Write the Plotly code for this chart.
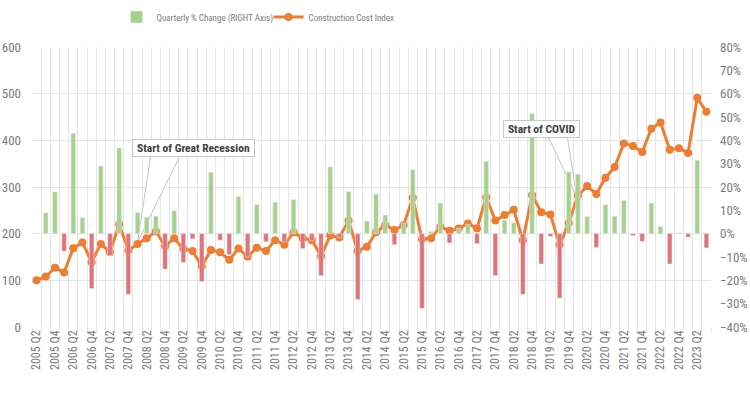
import plotly.graph_objects as go

# ---- data ----
quarters = []
for y in range(2005, 2024):
    for q in range(1, 5):
        if (y == 2005 and q < 2) or (y == 2023 and q > 3):
            continue
        quarters.append(f"{y} Q{q}")  # 2005 Q2 ... 2023 Q3 (74)

cost_index = [100, 108, 127, 117, 169, 181, 139, 178, 160, 220,
              164, 178, 190, 205, 173, 190, 167, 163, 130, 165,
              160, 144, 168, 151, 170, 163, 186, 176, 203, 190,
              186, 152, 196, 192, 228, 163, 172, 203, 218, 208,
              218, 277, 188, 190, 215, 206, 211, 222, 211, 278,
              228, 240, 251, 186, 283, 246, 241, 176, 223, 282,
              302, 285, 320, 343, 393, 388, 375, 425, 438, 380,
              383, 373, 491, 461]

pct_change = [None, 8.9, 17.9, -7.5, 43.0, 6.8, -23.5, 29.0, -9.4, 36.7,
              -26.0, 9.1, 7.0, 7.5, -15.2, 9.8, -12.3, -2.2, -20.5, 26.3,
              -2.8, -9.0, 16.0, -10.0, 12.5, -3.5, 13.5, -3.5, 14.6, -6.4,
              -3.0, -18.0, 28.6, -1.8, 18.0, -28.2, 5.4, 17.0, 8.0, -4.7,
              4.6, 27.4, -32.0, 1.0, 13.1, -4.0, 2.4, 4.0, -4.3, 31.0,
              -18.0, 5.8, 4.6, -26.0, 51.5, -13.0, -1.2, -27.6, 26.5, 25.5,
              7.4, -5.9, 12.4, 7.5, 14.3, -0.8, -3.3, 13.1, 3.0, -13.0,
              0.4, -1.5, 31.5, -6.1]

tick_labels = quarters[::2]

# ---- styling ----
FONT = "Roboto Condensed, Liberation Sans, Arial, sans-serif"
GREEN = "#a9d18e"
RED = "#e07479"
ORANGE = "#ed7d31"
GRID = "#e6e6e6"
TXT = "#7c7c7c"

idx = list(range(len(quarters)))
pos = [v if (v is not None and v >= 0) else None for v in pct_change]
neg = [v if (v is not None and v < 0) else None for v in pct_change]

fig = go.Figure()
fig.add_trace(go.Bar(x=idx, y=pos, yaxis="y2", marker_color=GREEN, width=0.5,
                     name="Quarterly % Change (RIGHT Axis)", hoverinfo="skip"))
fig.add_trace(go.Bar(x=idx, y=neg, yaxis="y2", marker_color=RED, width=0.5,
                     showlegend=False, hoverinfo="skip"))

# callout wedges (white fill, thin gray outline) - drawn above bars, below line
callouts = [
    dict(text="Start of Great Recession", cx=17.1, cy=384, w=117, tip=(11.0, 182), base=(12.5, 15.8), by=374),
    dict(text="Start of COVID", cx=55.0, cy=424, w=71, tip=(58.85, 280), base=(55.6, 57.8), by=414),
]
for c in callouts:
    fig.add_trace(go.Scatter(
        x=[c["base"][0], c["tip"][0], c["base"][1], c["base"][0]],
        y=[c["by"], c["tip"][1], c["by"], c["by"]],
        mode="lines", fill="toself", fillcolor="white",
        line=dict(color="#c4c4c4", width=1), showlegend=False, hoverinfo="skip"))

fig.add_trace(go.Scatter(x=idx, y=cost_index, mode="lines+markers",
                         name="Construction Cost Index",
                         line=dict(color=ORANGE, width=3),
                         marker=dict(color=ORANGE, size=8)))

for c in callouts:
    fig.add_annotation(x=c["cx"], y=c["cy"], xref="x", yref="y", text="<b>%s</b>" % c["text"],
                       showarrow=False, bgcolor="white", bordercolor="#c8c8c8", borderwidth=1,
                       borderpad=2, width=c["w"], height=12,
                       font=dict(family=FONT, size=11.5, color="#404040"))

fig.update_layout(
    width=750, height=400,
    margin=dict(l=32, r=39, t=47, b=73, autoexpand=False),
    paper_bgcolor="white", plot_bgcolor="white",
    font=dict(family=FONT, size=12, color=TXT),
    barmode="overlay",
    legend=dict(orientation="h", x=0.1245, xanchor="left", y=1.107, yanchor="middle",
                entrywidth=107, entrywidthmode="pixels",
                font=dict(family=FONT, size=9, color=TXT), bgcolor="rgba(0,0,0,0)"),
    xaxis=dict(range=[-0.5, len(quarters) - 0.5], tickmode="array", tickvals=idx[::2],
               ticktext=tick_labels, tickangle=-90, showgrid=False, zeroline=False,
               automargin=False,
               tickfont=dict(family=FONT, size=12, color=TXT), ticks="",
               minor=dict(tick0=-0.5, dtick=1, showgrid=True, gridcolor=GRID, gridwidth=1,
                          ticks="outside", ticklen=5, tickcolor=GRID)),
    yaxis=dict(range=[0, 600], dtick=100, showgrid=True, gridcolor=GRID, zeroline=False,
               automargin=False,
               tickfont=dict(family=FONT, size=13, color=TXT), ticklabelstandoff=10),
    yaxis2=dict(range=[-40, 80], dtick=10, overlaying="y", side="right", showgrid=False,
                zeroline=False, ticksuffix="%", automargin=False,
                tickfont=dict(family=FONT, size=13, color=TXT), ticklabelstandoff=8),
)

fig.write_html("out.html", config={"displayModeBar": False},
               post_script="document.body.style.margin='0';")
